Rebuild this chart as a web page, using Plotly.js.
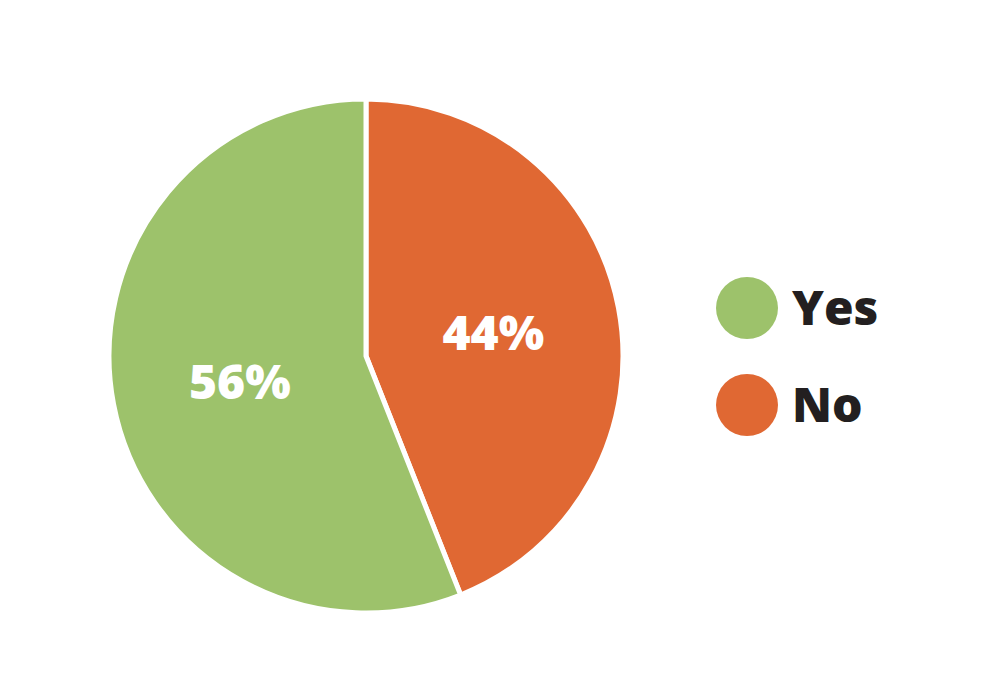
<!DOCTYPE html>
<html>
<head>
<meta charset="utf-8">
<script src="https://cdn.plot.ly/plotly-3.0.1.min.js"></script>
<style>html,body{margin:0;padding:0;background:#fff;}#chart{width:1000px;height:678px;}</style>
</head>
<body>
<div id="chart"></div>
<script>
const categories = ['Yes', 'No'];
const values = [56, 44];
const colors = ['#9DC26B', '#E06833'];

const W = 1000, H = 678;
const cx = 366, cy = 356, r = 257;
const FONT = '"Open Sans", sans-serif';

// slices drawn clockwise from 12 o'clock: No first, then Yes
const order = [1, 0];
const pie = {
  type: 'pie',
  labels: order.map(i => categories[i]),
  values: order.map(i => values[i]),
  sort: false,
  direction: 'clockwise',
  marker: { colors: order.map(i => colors[i]), line: { color: '#ffffff', width: 5 } },
  texttemplate: '%{value}%',
  textposition: 'inside',
  insidetextorientation: 'horizontal',
  textfont: { family: FONT, size: 48, color: '#ffffff', weight: 800 },
  hoverinfo: 'label+percent',
  showlegend: false,
  domain: { x: [(cx - r) / W, (cx + r) / W], y: [(H - cy - r) / H, (H - cy + r) / H] }
};

const legendX = 747, legendR = 31, legendY = [308, 405];
const shapes = categories.map((c, i) => ({
  type: 'circle', xref: 'paper', yref: 'paper',
  xsizemode: 'pixel', ysizemode: 'pixel',
  xanchor: legendX / W, yanchor: (H - legendY[i]) / H,
  x0: -legendR, x1: legendR, y0: -legendR, y1: legendR,
  fillcolor: colors[i], line: { width: 0 }
}));
const annotations = categories.map((c, i) => ({
  xref: 'paper', yref: 'paper', x: 790 / W, y: (H - legendY[i] + 2) / H,
  xanchor: 'left', yanchor: 'middle', showarrow: false, text: c,
  font: { family: FONT, size: 48, color: '#231F20', weight: 800 }
}));

Plotly.newPlot('chart', [pie], {
  width: W, height: H,
  margin: { l: 0, r: 0, t: 0, b: 0 },
  paper_bgcolor: '#ffffff', plot_bgcolor: '#ffffff',
  shapes: shapes, annotations: annotations,
  showlegend: false
}, { displayModeBar: false, staticPlot: true });
</script>
</body>
</html>
